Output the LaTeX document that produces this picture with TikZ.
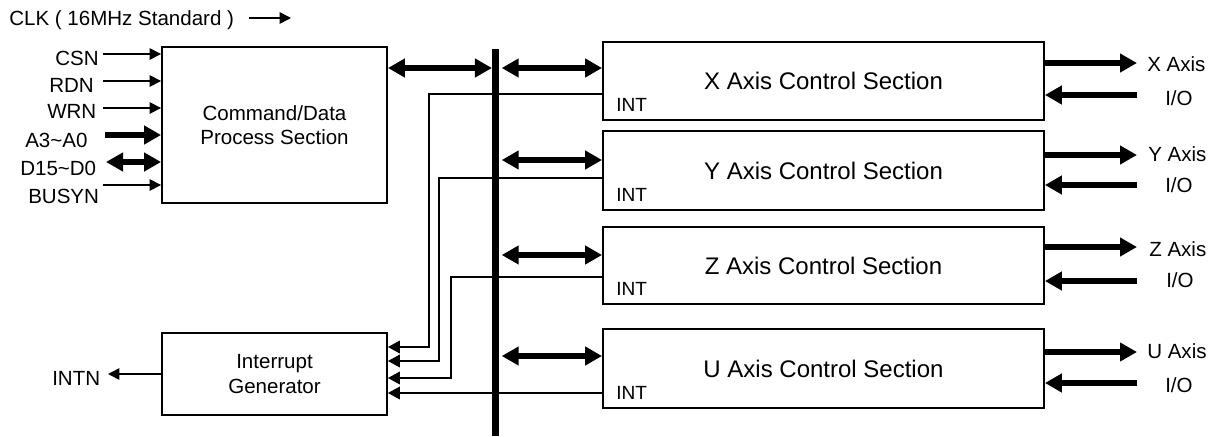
\documentclass[tikz,border=0pt]{standalone}
\usepackage{fontspec}
\setmainfont{Liberation Sans}
\usetikzlibrary{arrows.meta,calc}
\begin{document}
\begin{tikzpicture}[x=0.75pt,y=-0.75pt,
  box/.style={draw,line width=1.4pt,inner sep=0pt,align=center,font=\fontsize{15.4}{18.5}\selectfont},
  axbox/.style={draw,line width=1.4pt,inner sep=0pt,minimum width=330.75pt,font=\fontsize{18}{22}\selectfont},
  lbl/.style={inner sep=0pt,anchor=base west,font=\fontsize{15.4}{18}\selectfont},
  intlbl/.style={inner sep=0pt,anchor=base west,font=\fontsize{14.3}{17}\selectfont},
  thinarr/.style={line width=1.2pt,-{Triangle[length=8.5pt,width=8.5pt]}},
  thickarr/.style={line width=4.5pt,-{Triangle[length=12.75pt,width=13.5pt]}},
  dblarr/.style={line width=4.5pt,{Triangle[length=12.75pt,width=13.5pt]}-{Triangle[length=12.75pt,width=13.5pt]}},
  intline/.style={line width=1.2pt,-{Triangle[length=9pt,width=9.5pt]}},
  busbar/.style={fill=black,inner sep=0pt,minimum width=4.9pt,minimum height=290.25pt},
]
\useasboundingbox (0,0) rectangle (1218,436);

% main blocks
\node[box,minimum width=168.75pt,minimum height=117pt] (cmd) at (274.5,125) {Command/Data\\Process Section};
\node[box,minimum width=168.75pt,minimum height=61.5pt] (intg) at (274.5,374) {Interrupt\\Generator};
\node[busbar] (bus) at (495.5,242.5) {};
\node[axbox,minimum height=58.5pt] (xbox) at (823.5,81) {X Axis Control Section};
\node[axbox,minimum height=59.25pt] (ybox) at (823.5,170.5) {Y Axis Control Section};
\node[axbox,minimum height=57.75pt] (zbox) at (823.5,265.5) {Z Axis Control Section};
\node[axbox,minimum height=59.25pt] (ubox) at (823.5,368.5) {U Axis Control Section};

% INT labels
\node[intlbl] (xint) at ($(xbox.south west)+(14,-9)$) {INT};
\node[intlbl] (yint) at ($(ybox.south west)+(14,-9)$) {INT};
\node[intlbl] (zint) at ($(zbox.south west)+(14,-9)$) {INT};
\node[intlbl] (uint) at ($(ubox.south west)+(14,-9)$) {INT};

% CLK
\node[lbl] (clk) at (9,25) {CLK ( 16MHz Standard )};
\coordinate (clkA) at (249,18);
\coordinate (clkB) at (291,18);
\draw[thinarr] (clkA) -- (clkB);

% input labels
\node[lbl] (csn) at (55,65) {CSN};
\node[lbl] (rdn) at (49,92) {RDN};
\node[lbl] (wrn) at (47,118) {WRN};
\node[lbl] (adr) at (25,147) {A3\textasciitilde A0};
\node[lbl] (dat) at (20,175) {D15\textasciitilde D0};
\node[lbl] (busy) at (28,203) {BUSYN};

\coordinate (csnA) at (103,54);
\coordinate (rdnA) at (103,81);
\coordinate (wrnA) at (103,108);
\coordinate (adrA) at (105,135);
\coordinate (datA) at (106,162);
\coordinate (busyA) at (103,185);
\draw[thinarr] (csnA) -- (csnA -| cmd.west);
\draw[thinarr] (rdnA) -- (rdnA -| cmd.west);
\draw[thinarr] (wrnA) -- (wrnA -| cmd.west);
\draw[thickarr] (adrA) -- (adrA -| cmd.west);
\draw[dblarr] (datA) -- (datA -| cmd.west);
\draw[thinarr] (busyA) -- (busyA -| cmd.west);

% data bus arrows
\coordinate (r0) at (0,68);
\coordinate (ry) at (0,160);
\coordinate (rz) at (0,255);
\coordinate (ru) at (0,356);
\draw[dblarr] (cmd.east |- r0) -- (bus.west |- r0);
\draw[dblarr,shorten <=2pt] (bus.east |- r0) -- (xbox.west |- r0);
\draw[dblarr,shorten <=2pt] (bus.east |- ry) -- (ybox.west |- ry);
\draw[dblarr,shorten <=2pt] (bus.east |- rz) -- (zbox.west |- rz);
\draw[dblarr,shorten <=2pt] (bus.east |- ru) -- (ubox.west |- ru);

% interrupt lines
\coordinate (xi) at (0,94);   \coordinate (xv) at (429,347);
\coordinate (yi) at (0,178);  \coordinate (yv) at (439,361);
\coordinate (zi) at (0,277);  \coordinate (zv) at (451,378);
\coordinate (ui) at (0,393);
\draw[intline] (xbox.west |- xi) -| (xv) -- (intg.east |- xv);
\draw[intline] (ybox.west |- yi) -| (yv) -- (intg.east |- yv);
\draw[intline] (zbox.west |- zi) -| (zv) -- (intg.east |- zv);
\draw[intline] (ubox.west |- ui) -- (intg.east |- ui);

% INTN
\coordinate (intnA) at (108,374);
\draw[thinarr] (intg.west |- intnA) -- (intnA);
\node[lbl] (intn) at (52,385) {INTN};

% axis I/O
\coordinate (xo) at (1137,63);  \coordinate (xn) at (1137,95);
\coordinate (yo) at (1137,155); \coordinate (yn) at (1137,185);
\coordinate (zo) at (1137,247); \coordinate (zn) at (1137,281);
\coordinate (uo) at (1137,352); \coordinate (un) at (1137,383);
\draw[thickarr] (xbox.east |- xo) -- (xo);
\draw[thickarr] (xn) -- (xbox.east |- xn);
\draw[thickarr] (ybox.east |- yo) -- (yo);
\draw[thickarr] (yn) -- (ybox.east |- yn);
\draw[thickarr] (zbox.east |- zo) -- (zo);
\draw[thickarr] (zn) -- (zbox.east |- zn);
\draw[thickarr] (ubox.east |- uo) -- (uo);
\draw[thickarr] (un) -- (ubox.east |- un);

\node[lbl] (xax) at (1147,71) {X Axis};
\node[lbl] (xio) at (1165,105) {I/O};
\node[lbl] (yax) at (1148,161) {Y Axis};
\node[lbl] (yio) at (1165,192) {I/O};
\node[lbl] (zax) at (1149,256) {Z Axis};
\node[lbl] (zio) at (1166,287) {I/O};
\node[lbl] (uax) at (1147,358) {U Axis};
\node[lbl] (uio) at (1165,392) {I/O};
\end{tikzpicture}
\end{document}
